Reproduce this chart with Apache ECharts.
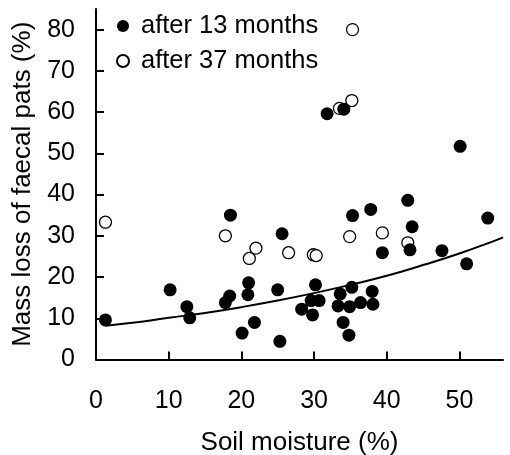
<!DOCTYPE html>
<html>
<head>
<meta charset="utf-8">
<script src="https://cdn.jsdelivr.net/npm/echarts@6/dist/echarts.min.js"></script>
<style>
html,body{margin:0;padding:0;background:#fff;}
#chart{width:510px;height:455px;}
</style>
</head>
<body>
<div id="chart"></div>
<script>
// Soil moisture (%) vs mass loss (%)
const after13 = [
  [1.3, 9.6], [10.2, 16.9], [12.5, 12.8], [12.9, 10.1], [17.8, 13.8],
  [18.4, 15.4], [18.5, 35.0], [20.1, 6.4], [20.9, 15.7], [21.0, 18.6],
  [21.8, 9.0], [25.0, 16.9], [25.3, 4.4], [25.6, 30.5], [28.3, 12.2],
  [29.6, 14.3], [29.8, 10.8], [30.2, 18.1], [30.7, 14.3], [31.8, 59.6],
  [33.3, 13.0], [33.6, 15.9], [34.0, 9.0], [34.1, 60.7], [34.8, 5.9],
  [34.9, 12.8], [35.2, 17.5], [35.3, 34.9], [36.4, 13.8], [37.8, 36.4],
  [38.0, 16.5], [38.1, 13.4], [39.4, 25.9], [42.9, 38.6], [43.2, 26.6],
  [43.5, 32.2], [47.6, 26.4], [50.1, 51.7], [51.0, 23.2], [53.9, 34.3]
];
const after37 = [
  [1.3, 33.3], [17.8, 30.0], [21.1, 24.5], [22.0, 27.0], [26.5, 25.9],
  [29.9, 25.4], [30.3, 25.2], [33.5, 60.9], [34.9, 29.8], [35.2, 62.8],
  [35.3, 80.0], [39.4, 30.7], [42.9, 28.3]
];
// fitted curve
const curveX = [1.3, 5, 10, 15, 20, 25, 30, 35, 40, 45, 50, 55, 56];
const curveY = [8.2, 8.9, 10.1, 11.3, 12.7, 14.3, 16.1, 18.1, 20.3, 22.9, 25.7, 28.9, 29.6];
const xTicks = [0, 10, 20, 30, 40, 50];
const yTicks = [0, 10, 20, 30, 40, 50, 60, 70, 80];
const seriesNames = ['after 13 months', 'after 37 months'];

const FONT = 'Liberation Sans, Arial, sans-serif';
const chart = echarts.init(document.getElementById('chart'));
const axisCommon = {
  axisLine: {show: true, onZero: false, lineStyle: {color: '#000', width: 2}},
  axisTick: {show: true, inside: true, length: 8, lineStyle: {color: '#000', width: 2}},
  splitLine: {show: false},
  nameTextStyle: {color: '#000', fontSize: 26, fontFamily: FONT},
};
chart.setOption({
  animation: false,
  backgroundColor: '#fff',
  grid: {left: 96, right: 7, top: 9, bottom: 95.5, containLabel: false, outerBoundsMode: 'none'},
  legend: {
    orient: 'vertical', left: 111, top: 8, itemGap: 9,
    itemWidth: 26, itemHeight: 12, icon: 'circle',
    data: seriesNames,
    textStyle: {color: '#000', fontSize: 25.5, fontFamily: FONT}
  },
  xAxis: Object.assign({}, axisCommon, {
    type: 'value', min: 0, max: 56,
    name: 'Soil moisture (%)', nameLocation: 'middle', nameGap: 70,
    axisTick: Object.assign({}, axisCommon.axisTick, {customValues: xTicks}),
    axisLabel: {customValues: xTicks, margin: 29, color: '#000', fontSize: 25, fontFamily: FONT}
  }),
  yAxis: Object.assign({}, axisCommon, {
    type: 'value', min: 0, max: 85,
    name: 'Mass loss of faecal pats (%)', nameLocation: 'middle', nameGap: 58,
    axisTick: Object.assign({}, axisCommon.axisTick, {customValues: yTicks}),
    axisLabel: {customValues: yTicks, margin: 21, color: '#000', fontSize: 25, fontFamily: FONT}
  }),
  series: [
    {
      name: seriesNames[1], type: 'scatter', z: 2, symbol: 'circle', symbolSize: 12,
      itemStyle: {color: '#fff', borderColor: '#000', borderWidth: 1.3, opacity: 1},
      data: after37
    },
    {
      name: seriesNames[0], type: 'scatter', z: 3, symbol: 'circle', symbolSize: 13,
      itemStyle: {color: '#000', opacity: 1},
      data: after13
    },
    {
      name: 'fit', type: 'line', z: 4, smooth: true, showSymbol: false, symbol: 'none',
      lineStyle: {color: '#000', width: 2},
      data: curveX.map((x, i) => [x, curveY[i]])
    }
  ]
});
</script>
</body>
</html>
